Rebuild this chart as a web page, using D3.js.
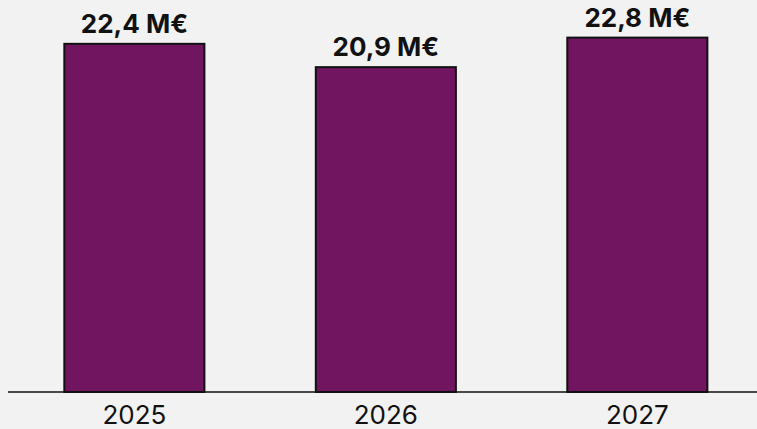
<!DOCTYPE html>
<html>
<head>
<meta charset="utf-8">
<script src="https://cdn.jsdelivr.net/npm/d3@7"></script>
<style>
  html, body { margin: 0; padding: 0; background: #f2f2f2; }
  svg { display: block; }
</style>
</head>
<body>
<div id="chart-area"></div>
<script>
// data
var years = ["2025", "2026", "2027"]
var values = [22.4, 20.9, 22.8]
var valueLabels = ["22,4 M€", "20,9 M€", "22,8 M€"]

var width = 757
var height = 429
var baseY = 392

var svg = d3.select("#chart-area")
  .append("svg")
  .attr("width", width)
  .attr("height", height)
  .style("background", "#f2f2f2")

var x = d3.scaleBand()
  .domain(years)
  .range([9, 762.7])
  .paddingInner(0.443)
  .paddingOuter(0.22)

var y = d3.scaleLinear()
  .domain([0, 25.22])
  .range([baseY, 0])

var data = years.map((d, i) => {
  return { year: d, value: values[i], label: valueLabels[i] }
})

svg.selectAll("rect.bar")
  .data(data)
  .enter().append("rect")
  .attr("class", "bar")
  .attr("x", (d) => { return x(d.year) })
  .attr("y", (d) => { return y(d.value) })
  .attr("width", x.bandwidth())
  .attr("height", (d) => { return baseY - y(d.value) })
  .attr("fill", "#711560")
  .attr("stroke", "#111")
  .attr("stroke-width", 2)

// baseline
svg.append("line")
  .attr("x1", 8)
  .attr("x2", width)
  .attr("y1", baseY)
  .attr("y2", baseY)
  .attr("stroke", "#111")
  .attr("stroke-width", 1.5)

svg.selectAll("text.value")
  .data(data)
  .enter().append("text")
  .attr("class", "value")
  .attr("x", (d) => { return x(d.year) + x.bandwidth() / 2 })
  .attr("y", (d) => { return y(d.value) - 11 })
  .attr("text-anchor", "middle")
  .attr("font-family", "Inter, 'Open Sans', sans-serif")
  .attr("font-weight", "bold")
  .attr("font-size", "26px")
  .attr("fill", "#111")
  .text((d) => { return d.label })

svg.selectAll("text.year")
  .data(data)
  .enter().append("text")
  .attr("class", "year")
  .attr("x", (d) => { return x(d.year) + x.bandwidth() / 2 })
  .attr("y", 424)
  .attr("text-anchor", "middle")
  .attr("font-family", "Inter, 'Open Sans', sans-serif")
  .attr("font-size", "26px")
  .attr("fill", "#111")
  .text((d) => { return d.year })
</script>
</body>
</html>
